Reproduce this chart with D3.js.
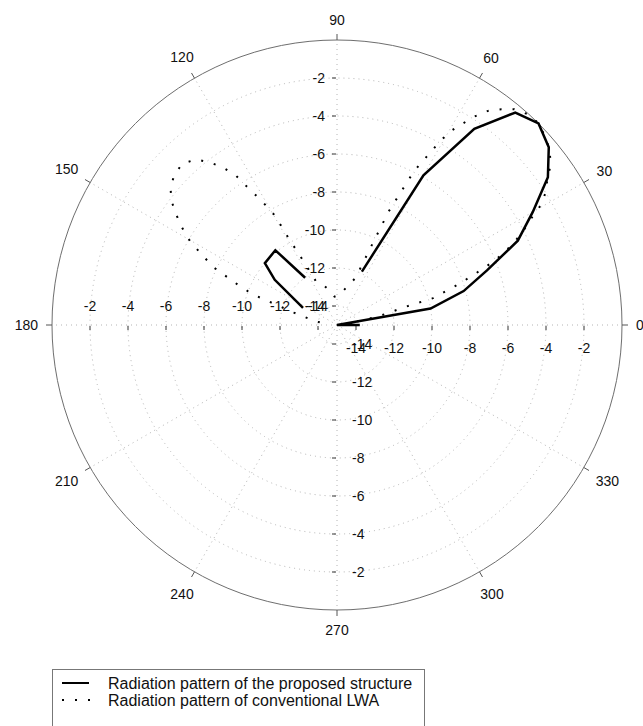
<!DOCTYPE html>
<html>
<head>
<meta charset="utf-8">
<script src="https://cdn.jsdelivr.net/npm/d3@7"></script>
<style>
  html, body { margin: 0; padding: 0; background: #fff; }
  svg { display: block; font-family: "Liberation Sans", Arial, sans-serif; }
</style>
</head>
<body>
<svg id="chart" width="643" height="726"></svg>
<script>
// Radial axis (dB) and angular axis (degrees)
const radialTicks = [-14, -12, -10, -8, -6, -4, -2];
const angleTicks = [0, 30, 60, 90, 120, 150, 180, 210, 240, 270, 300, 330];

// Normalized radiation pattern of the proposed structure: [angle deg, dB]
const proposedMainLobe = [
  [0, -13.8], [5, -15], [10, -10.0], [15, -8.1], [20, -6.6], [25, -4.5],
  [30, -3.1], [35, -1.45], [40, -0.45], [45, 0], [50, -0.4], [55, -2.4],
  [60, -5.9], [65, -11.9]
];
const proposedBackLobe = [
  [124, -12.0], [129.5, -9.9], [139.4, -10.0], [144, -10.95], [153.4, -13.0]
];

// Normalized radiation pattern of the conventional LWA: [angle deg, dB]
const conventional = [
  [2, -14.6], [7.4, -14.3], [12.1, -12.66], [14.9, -11.2], [15.6, -9.75],
  [18.6, -8.2], [21.3, -6.6], [23, -5.63], [24.9, -4.74], [27, -3.95],
  [29.05, -3.22], [30.5, -2.53], [32.6, -1.94], [35, -1.48], [36.9, -0.92],
  [39.3, -0.55], [41.9, -0.22], [45.5, 0], [47.9, -0.04], [50.6, -0.3],
  [52.7, -0.72], [54.8, -1.21], [56.6, -1.86], [58.2, -2.57], [59.9, -3.29],
  [61, -4.17], [63.4, -5.95], [65.5, -8.42], [66.7, -10.78], [67.4, -11.57],
  [68.6, -12.35], [75, -12.9], [85, -13.4], [95, -13.5], [105, -13.0],
  [110, -12.7], [115.8, -12.42], [118.2, -10.75], [119.1, -9.9], [119.3, -9.14],
  [119.7, -8.31], [121.2, -7.38], [122.9, -6.44], [124.1, -5.49], [126, -4.73],
  [128.2, -4.09], [130.4, -3.56], [133.7, -3.24], [137.2, -3.34], [140.5, -3.64],
  [143.2, -4.13], [145.5, -4.73], [147.9, -5.38], [150.3, -6.1], [152.5, -6.98],
  [155, -7.85], [156.4, -8.68], [158.3, -9.53], [160.1, -10.34], [160.8, -11.1],
  [164, -12.64], [170, -13.8], [178, -14.6]
];

const legendLabels = [
  "Radiation pattern of the proposed structure",
  "Radiation pattern of conventional LWA"
];

const svg = d3.select("#chart");
const cx = 337, cy = 325, R = 285;

const r = d3.scaleLinear().domain([-15, 0]).range([0, R]);
// polar angle (counter-clockwise from east) -> d3 radial angle (clockwise from north)
const a = d3.scaleLinear().domain([0, 360]).range([Math.PI / 2, Math.PI / 2 - 2 * Math.PI]);

const g = svg.append("g").attr("transform", `translate(${cx},${cy})`);

const toXY = (deg, rad) => [rad * Math.cos(deg * Math.PI / 180), -rad * Math.sin(deg * Math.PI / 180)];

// dotted grid circles
g.selectAll("circle.grid").data(radialTicks).join("circle")
  .attr("class", "grid")
  .attr("r", d => r(d))
  .attr("fill", "none")
  .attr("stroke", "#b4b4b4")
  .attr("stroke-width", 1)
  .attr("stroke-dasharray", "1,4");

// dotted spokes
g.selectAll("line.spoke").data(angleTicks).join("line")
  .attr("class", "spoke")
  .attr("x1", 0).attr("y1", 0)
  .attr("x2", d => toXY(d, R)[0])
  .attr("y2", d => toXY(d, R)[1])
  .attr("stroke", "#b4b4b4")
  .attr("stroke-width", 1)
  .attr("stroke-dasharray", "1,4");

// outer circle
g.append("circle")
  .attr("r", R)
  .attr("fill", "none")
  .attr("stroke", "#6e6e6e")
  .attr("stroke-width", 1);

// angular ticks and labels
g.selectAll("line.atick").data(angleTicks).join("line")
  .attr("class", "atick")
  .attr("x1", d => toXY(d, R)[0]).attr("y1", d => toXY(d, R)[1])
  .attr("x2", d => toXY(d, R + 6)[0]).attr("y2", d => toXY(d, R + 6)[1])
  .attr("stroke", "#555")
  .attr("stroke-width", 1);

g.selectAll("text.alabel").data(angleTicks).join("text")
  .attr("class", "alabel")
  .attr("font-size", 14)
  .attr("fill", "#111")
  .attr("text-anchor", "middle")
  .attr("dy", "0.36em")
  .each(function (d) {
    const w = String(d).length * 7.8, h = 12;
    const c = Math.abs(Math.cos(d * Math.PI / 180)), s = Math.abs(Math.sin(d * Math.PI / 180));
    const p = toXY(d, R + 14 + c * w / 2 + s * h / 2);
    d3.select(this).attr("x", p[0]).attr("y", p[1]);
  })
  .text(d => d);

// radial axes on the four arms
const tickColor = "#333";
const arms = [0, 90, 180, 270];
arms.forEach(dir => {
  const ag = g.append("g");
  radialTicks.forEach(v => {
    const p = toXY(dir, r(v));
    if (dir === 0 || dir === 180) {
      ag.append("line")
        .attr("x1", p[0]).attr("x2", p[0])
        .attr("y1", 1).attr("y2", 5)
        .attr("stroke", tickColor).attr("stroke-width", 1);
      ag.append("text")
        .attr("x", p[0])
        .attr("y", dir === 0 ? 28 : -14)
        .attr("text-anchor", "middle")
        .attr("font-size", 14).attr("fill", "#111")
        .text(v);
    } else {
      ag.append("line")
        .attr("x1", -5).attr("x2", -1)
        .attr("y1", p[1]).attr("y2", p[1])
        .attr("stroke", tickColor).attr("stroke-width", 1);
      ag.append("text")
        .attr("x", dir === 90 ? -12 : 15)
        .attr("y", p[1])
        .attr("dy", "0.36em")
        .attr("text-anchor", dir === 90 ? "end" : "start")
        .attr("font-size", 14).attr("fill", "#111")
        .text(v);
    }
  });
});

// pattern traces
const radial = d3.lineRadial()
  .angle(d => a(d[0]))
  .radius(d => r(d[1]));

g.append("path")
  .datum(conventional)
  .attr("d", radial)
  .attr("fill", "none")
  .attr("stroke", "#000")
  .attr("stroke-width", 2)
  .attr("stroke-dasharray", "2,11");

[proposedMainLobe, proposedBackLobe].forEach(seg => {
  g.append("path")
    .datum(seg)
    .attr("d", radial)
    .attr("fill", "none")
    .attr("stroke", "#000")
    .attr("stroke-width", 2.5)
    .attr("stroke-linejoin", "miter");
});

// legend
const lg = svg.append("g");
lg.append("rect")
  .attr("x", 52.5).attr("y", 669.5)
  .attr("width", 372).attr("height", 80)
  .attr("fill", "none")
  .attr("stroke", "#777")
  .attr("stroke-width", 1);
lg.append("line")
  .attr("x1", 62).attr("x2", 89).attr("y1", 683).attr("y2", 683)
  .attr("stroke", "#000").attr("stroke-width", 2);
lg.append("line")
  .attr("x1", 62).attr("x2", 92).attr("y1", 700).attr("y2", 700)
  .attr("stroke", "#000").attr("stroke-width", 2)
  .attr("stroke-dasharray", "2,11");
lg.selectAll("text").data(legendLabels).join("text")
  .attr("x", 108)
  .attr("y", (d, i) => 689 + i * 17)
  .attr("font-size", 16)
  .attr("fill", "#111")
  .text(d => d);
</script>
</body>
</html>
